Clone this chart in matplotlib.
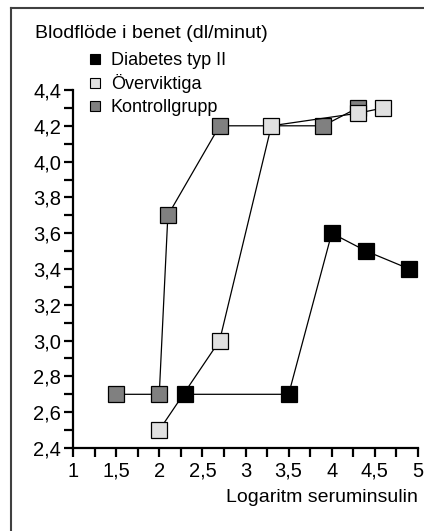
import matplotlib
matplotlib.use("Agg")
import matplotlib.pyplot as plt
from matplotlib.lines import Line2D
from matplotlib.ticker import MultipleLocator, FuncFormatter

plt.rcParams['font.family'] = ['Liberation Sans', 'DejaVu Sans']

# data
diabetes_x = [2.3, 3.5, 4.0, 4.4, 4.9]
diabetes_y = [2.7, 2.7, 3.6, 3.5, 3.4]
overvikt_x = [2.0, 2.7, 3.3, 4.3, 4.6]
overvikt_y = [2.5, 3.0, 4.2, 4.27, 4.3]
kontroll_x = [1.5, 2.0, 2.1, 2.7, 3.9, 4.3]
kontroll_y = [2.7, 2.7, 3.7, 4.2, 4.2, 4.3]

labels = ["Diabetes typ II", "Överviktiga", "Kontrollgrupp"]
colors = ["#000000", "#e0e0e0", "#808080"]

W, H = 424, 531
fig = plt.figure(figsize=(W / 100, H / 100), dpi=100)
ax = fig.add_axes([73 / W, 1 - 448 / H, (418 - 73) / W, (448 - 90) / H])

# outer frame (only top and left edges visible)
fig.add_artist(Line2D([11 / W, 11 / W], [0, 1 - 8 / H], transform=fig.transFigure,
                      color="#404040", lw=1.5))
fig.add_artist(Line2D([11 / W, 1], [1 - 8 / H, 1 - 8 / H], transform=fig.transFigure,
                      color="#404040", lw=1.5))

mk = dict(marker='s', markersize=11.5, markeredgecolor='black', markeredgewidth=0.9,
          color='black', lw=0.9, clip_on=False)
ax.plot(kontroll_x, kontroll_y, markerfacecolor=colors[2], zorder=3, **mk)
ax.plot(overvikt_x, overvikt_y, markerfacecolor=colors[1], zorder=4, **mk)
ax.plot(diabetes_x, diabetes_y, markerfacecolor=colors[0], zorder=5, **mk)

ax.set_xlim(1, 5)
ax.set_ylim(2.4, 4.4)
for s in ['top', 'right']:
    ax.spines[s].set_visible(False)
for s in ['left', 'bottom']:
    ax.spines[s].set_linewidth(1.6)

ax.xaxis.set_major_locator(MultipleLocator(0.5))
ax.xaxis.set_minor_locator(MultipleLocator(0.25))
ax.yaxis.set_major_locator(MultipleLocator(0.2))
ax.yaxis.set_minor_locator(MultipleLocator(0.1))
ax.xaxis.set_major_formatter(FuncFormatter(lambda v, p: f"{v:g}".replace('.', ',')))
ax.yaxis.set_major_formatter(FuncFormatter(lambda v, p: f"{v:.1f}".replace('.', ',')))
ax.tick_params(which='both', direction='out', length=6.5, width=1.6, labelsize=14.5)
ax.tick_params(axis='y', pad=2)
ax.tick_params(axis='x', pad=3.5)

fig.text(35 / W, 1 - 33 / H, "Blodflöde i benet (dl/minut)", fontsize=14,
         ha='left', va='center')
fig.text(418 / W, 1 - 497 / H, "Logaritm seruminsulin", fontsize=14,
         ha='right', va='center')

handles = [Line2D([], [], marker='s', linestyle='none', markersize=7.5,
                  markerfacecolor=c, markeredgecolor='black', markeredgewidth=0.8)
           for c in colors]
fig.legend(handles, labels, loc='upper left', bbox_to_anchor=(89 / W, 1 - 52 / H),
           frameon=False, fontsize=13, handlelength=0.7, handletextpad=0.5,
           labelspacing=0.3, borderpad=0, borderaxespad=0)

fig.savefig("out.png", dpi=100)
